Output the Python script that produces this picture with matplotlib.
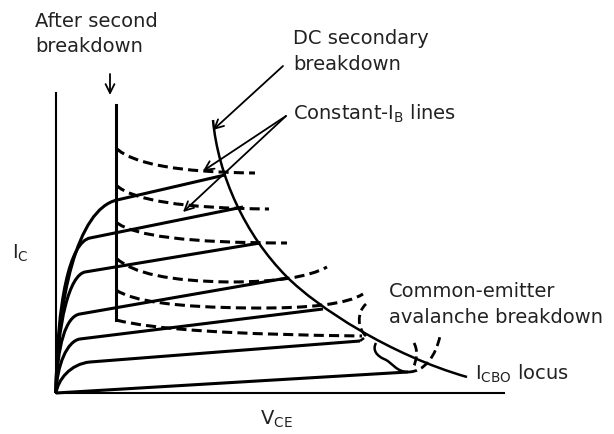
import matplotlib
matplotlib.use("Agg")
import matplotlib.pyplot as plt
from matplotlib.path import Path
from matplotlib.patches import PathPatch

# the sketch is laid out in picture pixels, y grows downward
origin = (56, 393)
axis_top = 93
axis_right = 504

# I_C-V_CE characteristics: two knee controls, knee, end of straight part
ic_curves = [
    [(57, 300), (77, 209), (117, 200), (225, 175)],
    [(57, 300), (70, 242), (90, 238), (243, 207)],
    [(57, 320), (70, 275), (85, 272), (260, 243)],
    [(57, 345), (66, 316), (80, 314), (287, 278)],
    [(57, 365), (67, 341), (80, 339), (323, 309)],
    [(58, 380), (70, 364), (90, 362), (360, 341)],
]
ic_lowest_end = (408, 372)

# vertical line reached after second breakdown
sb_x = 116
sb_top = 105
sb_bottom = 320

# constant-I_B lines after second breakdown (dashed)
after_bd = [
    [(116, 148), ((140, 172), (255, 173))],
    [(116, 185), ((140, 208), (269, 209))],
    [(116, 222), ((140, 243), (287, 243))],
    [(116, 258), ((140, 281), (230, 282)), ((300, 282), (327, 267))],
    [(116, 290), ((140, 307), (250, 308)), ((340, 309), (363, 294))],
    [(116, 320), ((170, 334), (362, 336))],
]

# avalanche breakdown pieces
aval_dashed = [
    [(366, 336), ((357, 328), (357, 312), (366, 304))],
    [(414, 343), ((418, 350), (417, 360), (413, 368))],
    [(408, 372), ((425, 372), (436, 355), (440, 336))],
]
aval_solid = [
    [(360, 341), ((364, 338),)],
    [(408, 372), ((396, 372), (392, 362), (384, 359)), ((377, 356), (372, 350), (376, 343))],
]

# DC secondary breakdown / I_CBO locus
locus = [(213, 120), ((218, 175), (245, 235), (287, 277)), ((317, 307), (390, 355), (467, 377))]

# arrows: tail, head
arrows = [
    ((110, 74), (110, 95)),
    ((283, 66), (213, 130)),
    ((286, 116), (203, 171)),
    ((286, 116), (183, 212)),
]

labels = [
    ("After second", 35, 27),
    ("breakdown", 35, 52),
    ("DC secondary", 293, 44),
    ("breakdown", 293, 70),
    (r"Constant-I$_\mathrm{B}$ lines", 293, 120),
    (r"I$_\mathrm{C}$", 12, 259),
    (r"V$_\mathrm{CE}$", 260, 425),
    ("Common-emitter", 389, 297),
    ("avalanche breakdown", 389, 323),
    (r"I$_\mathrm{CBO}$ locus", 475, 380),
]


def make_path(spec):
    verts = [spec[0]]
    codes = [Path.MOVETO]
    for seg in spec[1:]:
        code = {1: Path.LINETO, 2: Path.CURVE3, 3: Path.CURVE4}[len(seg)]
        verts.extend(seg)
        codes.extend([code] * len(seg))
    return Path(verts, codes)


def draw(ax, spec, lw, dashed=False):
    ls = (0, (3.3, 1.7)) if dashed else "solid"
    ax.add_patch(PathPatch(make_path(spec), fill=False, edgecolor="black",
                           lw=lw, linestyle=ls, joinstyle="round"))


fig = plt.figure(figsize=(6.14, 4.34), dpi=100)
ax = fig.add_axes([0, 0, 1, 1])
ax.set_xlim(0, 614)
ax.set_ylim(434, 0)
ax.axis("off")

ax.plot([origin[0], origin[0]], [axis_top, origin[1]], color="black", lw=1.5)
ax.plot([origin[0], axis_right], [origin[1], origin[1]], color="black", lw=1.5)

for c1, c2, knee, end in ic_curves:
    draw(ax, [origin, (c1, c2, knee), (end,)], 2.2)
draw(ax, [origin, (ic_lowest_end,)], 2.2)

ax.plot([sb_x, sb_x], [sb_top, sb_bottom], color="black", lw=2.2)

for spec in after_bd:
    draw(ax, spec, 2.2, dashed=True)
for spec in aval_dashed:
    draw(ax, spec, 2.0, dashed=True)
for spec in aval_solid:
    draw(ax, spec, 1.8)

draw(ax, locus, 1.8)

for tail, head in arrows:
    ax.annotate("", xy=head, xytext=tail,
                arrowprops=dict(arrowstyle="->", lw=1.3, color="black",
                                shrinkA=0, shrinkB=0, mutation_scale=16))

for txt, x, y in labels:
    ax.text(x, y, txt, fontsize=14, ha="left", va="baseline", color="#222222")

fig.savefig("out.png", dpi=100)
